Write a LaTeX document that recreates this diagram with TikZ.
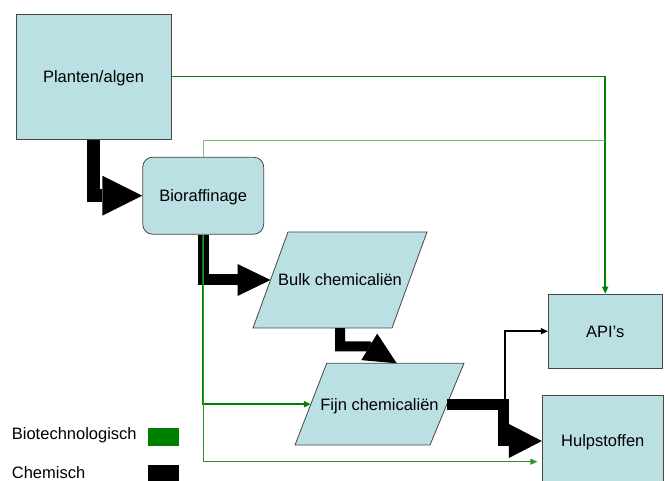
\documentclass[tikz,border=0pt]{standalone}
\usepackage{fontspec}
\setmainfont{Liberation Sans}
\usetikzlibrary{arrows.meta}
\definecolor{boxfill}{RGB}{187,224,227}
\definecolor{boxline}{RGB}{70,70,70}
\definecolor{biogreen}{RGB}{0,128,0}
\definecolor{midgreen}{RGB}{40,150,40}
\definecolor{lightgreen}{RGB}{125,190,125}
\begin{document}
\begin{tikzpicture}[x=1pt,y=-1pt,
  txt/.style={inner sep=0pt, font=\fontsize{16.5}{19}\selectfont, text height=11.8pt, text depth=0pt},
  box/.style={txt, draw=boxline, fill=boxfill, line width=0.8pt},
  para/.style={draw=boxline, fill=boxfill, line width=0.8pt},
  chem/.style={black, line join=miter},
  thintip/.style={-{Triangle[length=7pt,width=6pt]}}
]
\useasboundingbox (0,0) rectangle (665,481);

% boxes
\node[box, minimum width=155pt, minimum height=125pt] (plant) at (93.5,76.7) {Planten/algen};
\node[box, rounded corners=10pt, minimum width=121pt, minimum height=77pt] (bio) at (203.2,195.7) {Bioraffinage};
\draw[para] (288,232) -- (427,232) -- (392,328) -- (253,328) -- cycle;
\node[txt, minimum width=139pt, minimum height=96pt] (bulk) at (340,280) {Bulk chemicaliën};
\draw[para] (326.7,363.3) -- (464,363.3) -- (430,445) -- (295,445) -- cycle;
\node[txt, minimum width=135pt, minimum height=81.7pt] (fijn) at (379.5,404.2) {Fijn chemicaliën};
\node[box, minimum width=113.7pt, minimum height=74.3pt] (api) at (605.2,331.2) {API's};
\node[box, minimum width=121pt, minimum height=92pt] (hulp) at (602.8,441) {Hulpstoffen};

% attachment points
\coordinate (bulkW) at (270.5,280);
\coordinate (c1) at (340,346.3);
\coordinate (c2) at (368.3,346.3);
\coordinate (fijnT) at (396.7,363.3);
\coordinate (fijnE) at (446.8,404.4);
\coordinate (jH) at (503.3,404.4);
\coordinate (fijnW) at (310.8,404.2);
\coordinate (apiStart) at (505,404.4);
\coordinate (merge) at (605.2,141);
\coordinate (hulpEnd) at (537.3,461.7);

% chemical (black) connectors
\draw[chem, line width=13pt, -{Triangle[length=40pt,width=40pt,line width=0pt]}] (plant.south) |- (bio.west);
\draw[chem, line width=11pt, -{Triangle[length=33pt,width=32pt,line width=0pt]}] (bio.south) |- (bulkW);
\draw[chem, line width=10pt, -{Triangle[length=32pt,width=31pt,line width=0pt]}] (bulk.south) -- (c1) -- (c2) -- (fijnT);
\draw[chem, line width=10.5pt, -{Triangle[length=33pt,width=34pt,line width=0pt]}] (fijnE) -- (jH) |- (hulp.west);
\draw[black, line width=1.6pt, thintip] (apiStart) |- (api.west);

% biotech (green) connectors
\draw[biogreen, line width=1.5pt, thintip] (plant.east) -| (api.north);
\draw[lightgreen, line width=1pt] (bio.north) |- (merge);
\draw[biogreen, line width=2pt, thintip] (bio.south) |- (fijnW);
\draw[midgreen, line width=1pt, thintip] (bio.south) |- (hulpEnd);

% legend
\node[txt, anchor=base west] (legBio) at (11.7,439.3) {Biotechnologisch};
\node[fill=biogreen, inner sep=0pt, minimum width=31.6pt, minimum height=17.7pt] (legG) at (163.5,437.2) {};
\node[txt, anchor=base west] (legChem) at (11.7,478.3) {Chemisch};
\node[fill=black, inner sep=0pt, minimum width=31.6pt, minimum height=20pt] (legK) at (163.5,475) {};
\end{tikzpicture}
\end{document}
